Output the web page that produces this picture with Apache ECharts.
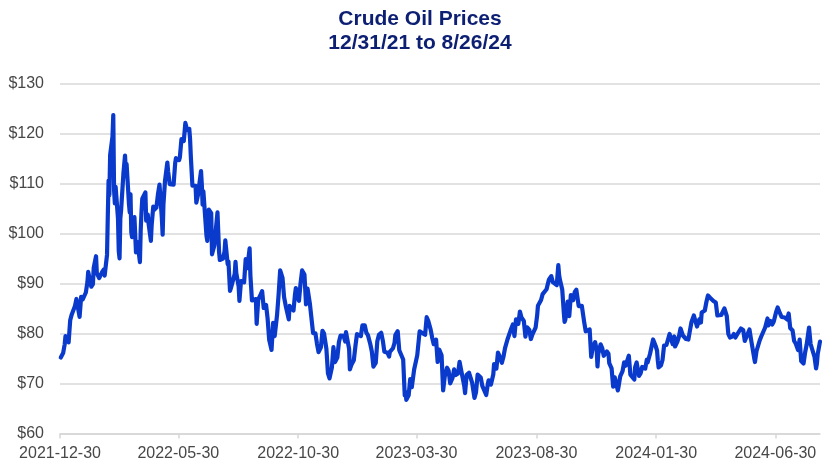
<!DOCTYPE html>
<html>
<head>
<meta charset="utf-8">
<script src="https://cdn.jsdelivr.net/npm/echarts@6/dist/echarts.min.js"></script>
<style>html,body{margin:0;padding:0;background:#fff}#c{width:840px;height:472px}</style>
</head>
<body>
<div id="c"></div>
<script>
// chart titles
const titleLines = ['Crude Oil Prices', '12/31/21 to 8/26/24'];
// x-axis tick labels (category dates shown on the axis)
const tickLabels = ['2021-12-30','2022-05-30','2022-10-30','2023-03-30','2023-08-30','2024-01-30','2024-06-30'];
const firstDay = '2021-12-30';
const lastDay = '2024-08-26';

// crude oil closing prices, [date, $/bbl]
const prices2021 = [['2021-12-31',75.21]];
const prices2022 = [
['2022-01-03',76.08],['2022-01-05',77.85],['2022-01-06',79.46],['2022-01-07',78.90],['2022-01-10',78.23],['2022-01-12',82.64],['2022-01-14',83.82],
['2022-01-18',85.43],['2022-01-20',86.90],['2022-01-24',83.31],['2022-01-26',87.35],['2022-01-28',86.82],['2022-02-01',88.20],['2022-02-03',90.27],
['2022-02-04',92.31],['2022-02-08',89.36],['2022-02-10',89.88],['2022-02-11',93.10],['2022-02-14',95.46],['2022-02-15',92.07],['2022-02-17',91.76],
['2022-02-18',91.07],['2022-02-22',92.35],['2022-02-24',92.81],['2022-02-25',91.59],['2022-02-28',95.72],['2022-03-01',103.41],['2022-03-02',110.60],
['2022-03-03',107.67],['2022-03-04',115.68],['2022-03-07',119.40],['2022-03-08',123.70],['2022-03-09',108.70],['2022-03-10',106.02],['2022-03-11',109.33],
['2022-03-14',103.01],['2022-03-15',96.44],['2022-03-16',95.04],['2022-03-17',102.98],['2022-03-18',104.70],['2022-03-21',112.12],['2022-03-23',115.60],
['2022-03-24',112.34],['2022-03-25',113.90],['2022-03-28',105.96],['2022-03-29',104.24],['2022-03-30',107.82],['2022-03-31',100.28],['2022-04-01',99.27],
['2022-04-04',103.28],['2022-04-06',96.23],['2022-04-07',96.03],['2022-04-08',98.26],['2022-04-11',94.29],['2022-04-12',100.60],['2022-04-13',104.25],
['2022-04-14',106.95],['2022-04-18',108.21],['2022-04-19',102.56],['2022-04-21',103.79],['2022-04-22',102.07],['2022-04-25',98.54],['2022-04-26',101.70],
['2022-04-28',105.36],['2022-04-29',104.69],['2022-05-02',105.17],['2022-05-04',107.81],['2022-05-06',109.77],['2022-05-09',103.09],['2022-05-10',99.76],
['2022-05-11',105.71],['2022-05-13',110.49],['2022-05-16',114.20],['2022-05-17',112.40],['2022-05-19',109.89],['2022-05-20',110.28],['2022-05-24',109.77],
['2022-05-26',114.09],['2022-05-27',115.07],['2022-05-31',114.67],['2022-06-01',115.26],['2022-06-03',118.87],['2022-06-06',118.50],['2022-06-08',122.11],
['2022-06-09',121.51],['2022-06-10',120.67],['2022-06-13',120.93],['2022-06-14',118.93],['2022-06-15',115.31],['2022-06-17',109.56],['2022-06-21',109.52],
['2022-06-22',106.19],['2022-06-24',107.62],['2022-06-28',112.50],['2022-06-29',109.78],['2022-06-30',105.76],['2022-07-01',108.43],['2022-07-05',99.50],
['2022-07-06',98.53],['2022-07-08',104.79],['2022-07-11',104.09],['2022-07-12',95.84],['2022-07-14',95.78],['2022-07-15',97.59],['2022-07-18',102.60],
['2022-07-19',104.22],['2022-07-21',96.35],['2022-07-22',94.70],['2022-07-26',94.98],['2022-07-28',96.42],['2022-07-29',98.62],['2022-08-01',93.89],
['2022-08-02',94.42],['2022-08-04',88.54],['2022-08-05',89.01],['2022-08-08',90.76],['2022-08-10',91.93],['2022-08-11',94.34],['2022-08-12',92.09],
['2022-08-15',89.41],['2022-08-16',86.53],['2022-08-18',90.50],['2022-08-19',90.77],['2022-08-22',90.23],['2022-08-24',94.89],['2022-08-26',93.06],
['2022-08-29',97.01],['2022-08-30',91.64],['2022-09-01',86.61],['2022-09-02',86.87],['2022-09-06',86.88],['2022-09-07',81.94],['2022-09-09',86.79],
['2022-09-12',87.78],['2022-09-14',88.48],['2022-09-16',85.11],['2022-09-19',85.73],['2022-09-21',82.94],['2022-09-23',78.74],['2022-09-26',76.71],
['2022-09-28',82.15],['2022-09-30',79.49],['2022-10-03',83.63],['2022-10-05',87.76],['2022-10-07',92.64],['2022-10-10',91.13],['2022-10-12',87.27],
['2022-10-14',85.61],['2022-10-18',82.82],['2022-10-19',85.55],['2022-10-21',85.05],['2022-10-24',84.58],['2022-10-26',87.91],['2022-10-27',89.08],
['2022-10-28',87.90],['2022-10-31',86.53],['2022-11-02',90.00],['2022-11-04',92.61],['2022-11-07',91.79],['2022-11-09',85.83],['2022-11-11',88.96],
['2022-11-14',85.87],['2022-11-16',85.59],['2022-11-18',80.08],['2022-11-21',80.04],['2022-11-23',77.94],['2022-11-25',76.28],['2022-11-28',77.24],
['2022-11-30',80.55],['2022-12-02',79.98],['2022-12-05',76.93],['2022-12-07',72.01],['2022-12-09',71.02],['2022-12-12',73.17],['2022-12-14',77.28],
['2022-12-16',74.29],['2022-12-19',75.19],['2022-12-21',78.29],['2022-12-23',79.56],['2022-12-27',79.53],['2022-12-29',78.40],['2022-12-30',80.26]
];
const prices2023 = [
['2023-01-03',76.93],['2023-01-04',72.84],['2023-01-06',73.77],['2023-01-09',74.63],['2023-01-11',77.41],['2023-01-13',79.86],['2023-01-18',79.48],
['2023-01-20',81.64],['2023-01-23',81.62],['2023-01-25',80.15],['2023-01-27',79.68],['2023-01-30',77.90],['2023-02-01',76.41],['2023-02-03',73.39],
['2023-02-06',74.11],['2023-02-08',78.47],['2023-02-10',79.72],['2023-02-13',80.14],['2023-02-15',78.59],['2023-02-17',76.34],['2023-02-21',76.16],
['2023-02-23',75.39],['2023-02-24',76.32],['2023-02-28',77.05],['2023-03-02',78.16],['2023-03-03',79.68],['2023-03-06',80.46],['2023-03-08',76.66],
['2023-03-10',76.68],['2023-03-13',74.80],['2023-03-15',67.61],['2023-03-16',68.35],['2023-03-17',66.74],['2023-03-20',67.64],['2023-03-22',70.90],
['2023-03-24',69.26],['2023-03-27',72.81],['2023-03-29',72.97],['2023-03-31',75.67],['2023-04-03',80.42],['2023-04-05',80.61],['2023-04-10',79.74],
['2023-04-12',83.26],['2023-04-14',82.52],['2023-04-17',80.83],['2023-04-19',79.16],['2023-04-21',77.87],['2023-04-24',78.76],['2023-04-26',74.30],
['2023-04-28',76.78],['2023-05-01',75.66],['2023-05-03',68.60],['2023-05-04',68.56],['2023-05-05',71.34],['2023-05-08',73.16],['2023-05-10',72.56],
['2023-05-12',70.04],['2023-05-15',71.11],['2023-05-17',72.83],['2023-05-19',71.69],['2023-05-22',71.99],['2023-05-24',74.34],['2023-05-26',72.67],
['2023-05-30',69.46],['2023-05-31',68.09],['2023-06-02',71.74],['2023-06-05',72.15],['2023-06-07',72.53],['2023-06-09',70.17],['2023-06-12',67.12],
['2023-06-14',68.27],['2023-06-16',71.78],['2023-06-20',71.19],['2023-06-22',69.51],['2023-06-23',69.16],['2023-06-27',67.70],['2023-06-29',69.86],
['2023-06-30',70.64],['2023-07-03',69.79],['2023-07-06',71.80],['2023-07-07',73.86],['2023-07-10',72.99],['2023-07-12',76.20],['2023-07-14',75.42],
['2023-07-17',74.15],['2023-07-19',75.35],['2023-07-21',77.07],['2023-07-24',78.74],['2023-07-26',78.78],['2023-07-28',80.58],['2023-07-31',81.80],
['2023-08-02',79.49],['2023-08-04',82.82],['2023-08-07',81.94],['2023-08-09',84.40],['2023-08-11',83.19],['2023-08-14',82.51],['2023-08-16',79.38],
['2023-08-18',81.25],['2023-08-21',80.72],['2023-08-23',78.89],['2023-08-25',79.83],['2023-08-29',81.16],['2023-08-31',83.63],['2023-09-01',85.55],
['2023-09-05',86.69],['2023-09-07',87.87],['2023-09-08',87.51],['2023-09-12',88.84],['2023-09-14',90.16],['2023-09-15',90.77],['2023-09-18',91.48],
['2023-09-20',90.28],['2023-09-22',90.03],['2023-09-25',89.68],['2023-09-27',93.68],['2023-09-28',91.71],['2023-09-29',90.79],['2023-10-02',88.82],
['2023-10-04',84.22],['2023-10-05',82.31],['2023-10-06',82.79],['2023-10-09',86.38],['2023-10-11',83.49],['2023-10-13',87.69],['2023-10-16',86.66],
['2023-10-18',88.32],['2023-10-20',88.75],['2023-10-23',85.49],['2023-10-25',85.39],['2023-10-27',85.54],['2023-10-30',82.31],['2023-11-01',80.44],
['2023-11-03',80.51],['2023-11-06',80.82],['2023-11-08',75.33],['2023-11-10',77.17],['2023-11-13',78.26],['2023-11-15',76.66],['2023-11-16',73.40],
['2023-11-17',75.89],['2023-11-20',77.83],['2023-11-22',77.10],['2023-11-24',75.54],['2023-11-28',76.41],['2023-11-30',75.96],['2023-12-01',74.07],
['2023-12-04',73.04],['2023-12-06',69.38],['2023-12-07',69.34],['2023-12-08',71.23],['2023-12-12',68.61],['2023-12-13',69.47],['2023-12-15',71.43],
['2023-12-18',72.47],['2023-12-20',74.22],['2023-12-22',73.56],['2023-12-26',75.57],['2023-12-28',71.77],['2023-12-29',71.65]
];
const prices2024 = [
['2024-01-02',70.80],['2024-01-03',73.20],['2024-01-05',74.20],['2024-01-08',71.50],['2024-01-10',72.00],['2024-01-12',73.30],['2024-01-16',73.00],
['2024-01-18',74.80],['2024-01-19',74.20],['2024-01-22',75.90],['2024-01-24',75.90],['2024-01-26',78.80],['2024-01-29',77.60],['2024-01-31',76.60],
['2024-02-01',74.60],['2024-02-02',73.20],['2024-02-05',73.60],['2024-02-07',74.70],['2024-02-09',77.60],['2024-02-12',77.70],['2024-02-14',77.40],
['2024-02-16',79.90],['2024-02-20',77.90],['2024-02-22',79.40],['2024-02-23',77.40],['2024-02-26',78.40],['2024-02-28',79.40],['2024-03-01',81.00],
['2024-03-04',79.60],['2024-03-06',80.00],['2024-03-08',78.90],['2024-03-11',78.80],['2024-03-13',80.60],['2024-03-15',82.30],['2024-03-18',83.60],
['2024-03-20',82.50],['2024-03-22',81.40],['2024-03-25',82.80],['2024-03-27',82.20],['2024-03-28',84.20],['2024-04-01',84.60],['2024-04-03',86.30],
['2024-04-05',87.60],['2024-04-08',87.10],['2024-04-10',86.90],['2024-04-12',86.50],['2024-04-15',86.20],['2024-04-17',83.60],['2024-04-19',84.00],
['2024-04-22',83.70],['2024-04-24',83.70],['2024-04-26',85.00],['2024-04-29',83.50],['2024-05-01',79.90],['2024-05-03',79.20],['2024-05-06',79.40],
['2024-05-08',79.90],['2024-05-10',79.20],['2024-05-13',80.00],['2024-05-15',79.60],['2024-05-17',81.00],['2024-05-20',80.70],['2024-05-22',78.50],
['2024-05-24',78.60],['2024-05-28',80.80],['2024-05-30',78.80],['2024-05-31',77.90],['2024-06-03',75.10],['2024-06-04',74.30],['2024-06-06',76.50],
['2024-06-07',76.40],['2024-06-10',78.60],['2024-06-12',79.40],['2024-06-14',79.30],['2024-06-17',81.20],['2024-06-20',83.00],['2024-06-21',81.60],
['2024-06-24',82.50],['2024-06-26',81.80],['2024-06-28',82.40],['2024-07-01',84.30],['2024-07-03',85.20],['2024-07-05',84.40],['2024-07-08',83.30],
['2024-07-10',83.00],['2024-07-12',83.20],['2024-07-15',82.80],['2024-07-17',84.00],['2024-07-19',81.10],['2024-07-22',80.60],['2024-07-24',78.50],
['2024-07-26',78.00],['2024-07-29',76.70],['2024-07-31',78.80],['2024-08-02',74.50],['2024-08-05',74.00],['2024-08-07',76.20],['2024-08-09',77.80],
['2024-08-12',81.20],['2024-08-14',77.90],['2024-08-16',77.60],['2024-08-19',75.30],['2024-08-21',73.00],['2024-08-22',73.90],['2024-08-23',75.80],
['2024-08-26',78.40]
];

// calendar-day categories for the x axis
const days = [];
for (let t = Date.parse(firstDay + 'T00:00:00Z'); t <= Date.parse(lastDay + 'T00:00:00Z'); t += 86400000) {
  days.push(new Date(t).toISOString().slice(0, 10));
}
const dayIndex = {};
days.forEach((d, i) => { dayIndex[d] = i; });
const allPrices = prices2021.concat(prices2022, prices2023, prices2024);
const seriesData = allPrices.map(([d, v]) => [dayIndex[d], v]);

const showTick = (i, v) => tickLabels.indexOf(v) >= 0;
const titleStyle = {
  fontFamily: 'Liberation Sans',
  fontWeight: 'bold',
  fontSize: 21,
  lineHeight: 24,
  color: '#0c1f73'
};
const chart = echarts.init(document.getElementById('c'), null, { renderer: 'canvas' });
chart.setOption({
  animation: false,
  backgroundColor: '#ffffff',
  title: [
    { text: titleLines[0], left: 'center', top: 7.5, padding: 0, textStyle: titleStyle },
    { text: titleLines[1], left: 'center', top: 31.5, padding: 0, textStyle: titleStyle }
  ],
  grid: { left: 60, right: 20, top: 83.5, bottom: 38.5, containLabel: false },
  xAxis: {
    type: 'category',
    data: days,
    boundaryGap: false,
    axisLine: { show: true, lineStyle: { color: '#d6d6d6', width: 1.5 } },
    axisTick: { show: true, interval: showTick, length: 5, lineStyle: { color: '#d6d6d6', width: 1.5 } },
    axisLabel: {
      interval: showTick,
      margin: 12,
      fontFamily: 'Liberation Sans',
      fontSize: 16,
      color: '#474747'
    },
    splitLine: { show: false }
  },
  yAxis: {
    type: 'value',
    min: 60,
    max: 130,
    interval: 10,
    axisLine: { show: false },
    axisTick: { show: false },
    axisLabel: {
      formatter: v => '$' + v,
      margin: 16,
      fontFamily: 'Liberation Sans',
      fontSize: 16,
      color: '#474747'
    },
    splitLine: { show: true, lineStyle: { color: '#d9d9d9', width: 1.5 } }
  },
  series: [{
    type: 'line',
    data: seriesData,
    showSymbol: false,
    symbol: 'none',
    smooth: false,
    lineStyle: { color: '#0a3acb', width: 4.2, cap: 'round', join: 'round' }
  }]
});
</script>
</body>
</html>
